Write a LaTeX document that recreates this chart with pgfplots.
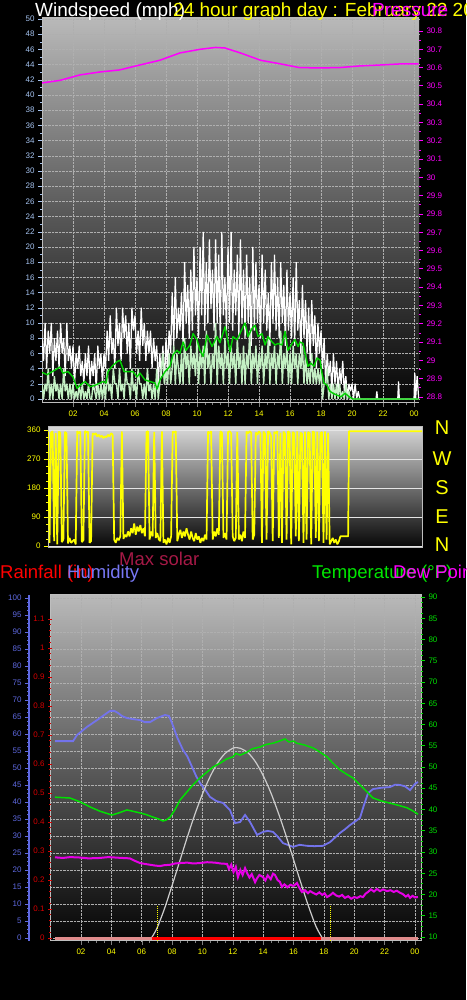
\documentclass[border=0pt]{standalone}
\usepackage{pgfplots}
\pgfplotsset{compat=1.18}
\usepackage{fontspec}
\setmainfont{Liberation Sans}
\definecolor{lblue}{RGB}{165,195,240}
\definecolor{mag}{RGB}{255,0,255}
\definecolor{yel}{RGB}{255,255,0}
\definecolor{hum}{RGB}{115,115,235}
\definecolor{humaxis}{RGB}{95,105,225}
\definecolor{tempg}{RGB}{0,225,0}
\definecolor{dewm}{RGB}{230,0,230}
\definecolor{raintick}{RGB}{215,0,0}
\definecolor{lgreen}{RGB}{195,240,195}
\definecolor{avgg}{RGB}{0,210,0}
\definecolor{solar}{RGB}{205,205,205}
\definecolor{maxsol}{RGB}{165,25,70}
\definecolor{pinkrain}{RGB}{225,140,140}
\definecolor{redrain}{RGB}{255,0,0}
\definecolor{gridc}{RGB}{175,175,175}
\definecolor{framec}{RGB}{190,190,190}
\definecolor{bgtop}{RGB}{185,185,185}
\definecolor{bgmid}{RGB}{90,90,90}
\definecolor{bgbot}{RGB}{5,5,5}
\definecolor{dirtop}{RGB}{215,215,215}
\definecolor{dirmid}{RGB}{110,110,110}
\definecolor{legred}{RGB}{255,0,0}
\definecolor{leghum}{RGB}{120,120,245}
\definecolor{leggreen}{RGB}{0,230,0}
\pgfplotsset{
  base/.style={
    scale only axis, anchor=south west,
    /pgf/number format/assume math mode=true,
    tick label style={font=\fontsize{8}{9}\selectfont},
    tick align=outside,
    major tick length=4pt,
    minor tick length=2pt,
  },
}
\begin{document}
\begin{tikzpicture}
\fill[black] (0pt,0pt) rectangle (466pt,1000pt);

% ---------------- top panel: wind speed ----------------
\begin{axis}[base, at={(42pt,597pt)}, width=377pt, height=385pt,
  xmin=0, xmax=24.32, ymin=-0.53, ymax=50.13,
  axis background/.style={shade, top color=bgtop, bottom color=bgbot, middle color=bgmid},
  axis x line*=bottom, axis y line*=left,
  axis line style={framec, line width=1pt},
  xtick={2,4,...,24}, xticklabels={02,04,06,08,10,12,14,16,18,20,22,00},
  minor x tick num=3,
  ytick={0,2,...,50}, minor y tick num=1,
  grid=major, grid style={gridc, densely dotted, line width=0.5pt},
  xticklabel style={yel}, yticklabel style={lblue},
  x tick style={gray}, y tick style={lblue},
]
% gusts
\addplot[white, line width=1.25pt, line join=bevel] coordinates {
(0,8)(0.1,5)(0.2,10)(0.3,4)(0.4,9)(0.5,6)(0.6,10)(0.7,3)(0.8,8)(0.9,5)
(1,9)(1.1,4)(1.2,10)(1.3,6)(1.4,8)(1.5,3)(1.6,10)(1.7,5)(1.8,7)(1.9,4)
(2,7)(2.1,2)(2.2,6)(2.3,4)(2.4,7)(2.5,3)(2.6,5)(2.7,2)(2.8,6)(2.9,3)
(3,7)(3.1,2)(3.2,5)(3.3,3)(3.4,6)(3.5,1)(3.6,7)(3.7,4)(3.8,6)(3.9,2)
(4,6)(4.1,4)(4.2,9)(4.3,5)(4.4,11)(4.5,6)(4.6,8)(4.7,4)(4.8,12)(4.9,7)
(5,10)(5.1,5)(5.2,12)(5.3,8)(5.4,11)(5.5,6)(5.6,10)(5.7,4)(5.8,12)(5.9,9)
(6,11)(6.1,6)(6.2,9)(6.3,5)(6.4,12)(6.5,7)(6.6,10)(6.7,5)(6.8,9)(6.9,6)
(7,9)(7.1,4)(7.2,8)(7.3,5)(7.4,7)(7.5,2)(7.6,6)(7.7,3)(7.8,7)(7.9,2)
(8,8)(8.1,4)(8.2,9)(8.3,6)(8.4,14)(8.5,7)(8.6,16)(8.7,8)(8.8,12)(8.9,9)
(9,14)(9.1,7)(9.2,18)(9.3,10)(9.4,15)(9.5,8)(9.6,17)(9.7,9)(9.8,20)(9.9,11)
(10,16)(10.1,8)(10.2,20)(10.3,11)(10.4,22)(10.5,9)(10.6,18)(10.7,10)(10.8,21)(10.9,12)
(11,17)(11.1,9)(11.2,21)(11.3,10)(11.4,19)(11.5,8)(11.6,22)(11.7,11)(11.8,16)(11.9,9)
(12,20)(12.1,10)(12.2,22)(12.3,9)(12.4,17)(12.5,11)(12.6,19)(12.7,8)(12.8,21)(12.9,10)
(13,17)(13.1,8)(13.2,19)(13.3,10)(13.4,16)(13.5,7)(13.6,20)(13.7,9)(13.8,18)(13.9,10)
(14,15)(14.1,8)(14.2,19)(14.3,10)(14.4,17)(14.5,9)(14.6,14)(14.7,7)(14.8,18)(14.9,10)
(15,19)(15.1,9)(15.2,16)(15.3,8)(15.4,18)(15.5,10)(15.6,15)(15.7,7)(15.8,17)(15.9,9)
(16,14)(16.1,8)(16.2,16)(16.3,7)(16.4,18)(16.5,9)(16.6,13)(16.7,6)(16.8,15)(16.9,8)
(17,13)(17.1,6)(17.2,12)(17.3,5)(17.4,13)(17.5,7)(17.6,11)(17.7,4)(17.8,10)(17.9,6)
(18,9)(18.1,4)(18.2,8)(18.3,2)(18.4,6)(18.5,3)(18.6,5)(18.7,1)(18.8,6)(18.9,2)
(19,5)(19.1,1)(19.2,4)(19.3,2)(19.4,5)(19.5,1)(19.6,3)(19.7,0)(19.8,2)(19.9,1)
(20,2)(20.1,0)(20.2,2)(20.3,0)(20.4,1)(20.5,0)(21.55,0)(21.6,1)(21.65,0)
(22.95,0)(23,2.3)(23.05,0)(24,0)(24.05,3.4)(24.1,0)(24.2,3)(24.3,0)};
% wind speed
\addplot[lgreen, line width=1.4pt, line join=bevel] coordinates {
(0,2)(0.1,0)(0.2,2)(0.3,1)(0.4,4)(0.5,0)(0.6,2)(0.7,0)(0.8,3)(0.9,1)
(1,2)(1.1,0)(1.2,2)(1.3,0)(1.4,4)(1.5,1)(1.6,2)(1.7,0)(1.8,2)(1.9,0)
(2,2)(2.1,0)(2.2,1)(2.3,0)(2.4,2)(2.5,0)(2.6,2)(2.7,0)(2.8,1)(2.9,0)
(3,2)(3.1,0)(3.2,0)(3.3,2)(3.4,1)(3.5,0)(3.6,2)(3.7,0)(3.8,2)(3.9,0)
(4,2)(4.1,0)(4.2,4)(4.3,1)(4.4,2)(4.5,0)(4.6,4)(4.7,2)(4.8,2)(4.9,0)
(5,4)(5.1,1)(5.2,2)(5.3,0)(5.4,4)(5.5,2)(5.6,2)(5.7,0)(5.8,4)(5.9,1)
(6,2)(6.1,0)(6.2,4)(6.3,2)(6.4,2)(6.5,0)(6.6,2)(6.7,0)(6.8,4)(6.9,1)
(7,2)(7.1,0)(7.2,2)(7.3,0)(7.4,4)(7.5,0)(7.6,2)(7.7,4)(7.8,6)(7.9,2)
(8,4)(8.1,2)(8.2,6)(8.3,2)(8.4,4)(8.5,7)(8.6,2)(8.7,6)(8.8,4)(8.9,2)
(9,6)(9.1,2)(9.2,8)(9.3,4)(9.4,6)(9.5,2)(9.6,7)(9.7,4)(9.8,6)(9.9,3)
(10,8)(10.1,2)(10.2,6)(10.3,4)(10.4,7)(10.5,2)(10.6,9)(10.7,4)(10.8,6)(10.9,2)
(11,6)(11.1,4)(11.2,10)(11.3,2)(11.4,7)(11.5,4)(11.6,6)(11.7,2)(11.8,8)(11.9,4)
(12,6)(12.1,2)(12.2,7)(12.3,4)(12.4,6)(12.5,2)(12.6,8)(12.7,4)(12.8,6)(12.9,2)
(13,7)(13.1,2)(13.2,6)(13.3,4)(13.4,9)(13.5,2)(13.6,6)(13.7,4)(13.8,7)(13.9,2)
(14,6)(14.1,4)(14.2,7)(14.3,2)(14.4,6)(14.5,4)(14.6,8)(14.7,2)(14.8,6)(14.9,4)
(15,7)(15.1,2)(15.2,6)(15.3,4)(15.4,9)(15.5,2)(15.6,6)(15.7,4)(15.8,7)(15.9,2)
(16,6)(16.1,2)(16.2,7)(16.3,4)(16.4,6)(16.5,2)(16.6,6)(16.7,4)(16.8,7)(16.9,2)
(17,6)(17.1,2)(17.2,4)(17.3,2)(17.4,6)(17.5,2)(17.6,4)(17.7,2)(17.8,4)(17.9,2)
(18,4)(18.1,0)(18.2,2)(18.3,2)(18.4,4)(18.5,0)(18.6,2)(18.7,0)(18.8,2)(18.9,0)
(19,2)(19.1,0)(19.2,2)(19.3,0)(19.4,1)(19.5,0)(19.6,2)(19.7,0)(19.8,1)(19.9,0)
(20,0)(24.3,0)};
% average wind
\addplot[avgg, line width=1.4pt, line join=round] coordinates {
(0,3.5)(0.32,3.2)(0.84,3.8)(1.16,4.2)(1.35,3.4)(1.68,3.6)(2,2.9)(2.26,1.4)(2.45,1.8)
(2.77,2.3)(3.1,1.6)(3.42,1.8)(3.74,2.1)(3.94,2.3)(4.13,2.1)(4.26,3.6)(4.52,4.3)(4.84,4.9)
(5.03,5.1)(5.29,3.6)(5.55,3.6)(5.87,3.6)(6.13,2.9)(6.32,3.4)(6.65,2.5)(6.97,2.3)(7.29,2.1)
(7.42,1.3)(7.61,2.5)(7.94,3.6)(8.26,4.3)(8.45,5.8)(8.71,6.4)(8.9,6)(9.1,7.5)(9.29,6.4)
(9.55,7.1)(9.74,8.6)(10,7.8)(10.19,6.4)(10.39,5.6)(10.65,8.4)(10.97,6.9)(11.29,8.2)
(11.48,7.4)(11.81,9.5)(12.13,6.2)(12.32,8.2)(12.58,7.8)(12.77,8.6)(12.97,9.5)(13.1,10)
(13.29,8.2)(13.55,9.3)(13.74,9.7)(13.94,8.2)(14.19,8.6)(14.39,7.1)(14.58,8.2)(14.84,7.5)
(15.03,7.1)(15.23,7.3)(15.48,7.1)(15.68,8.9)(15.87,6.4)(16.13,7.3)(16.32,7.8)(16.52,6.9)
(16.65,7.5)(16.84,7.3)(16.97,6)(17.16,4.3)(17.35,4.7)(17.55,4.3)(17.74,5.4)(17.94,5.1)
(18.06,3.4)(18.19,2.1)(18.39,1.8)(18.58,1)(18.77,0.75)(19.03,0.5)(19.29,0.3)(19.55,0.75)
(19.81,0.3)(20.06,0)(24.3,0)};
\end{axis}

% pressure
\begin{axis}[base, at={(42pt,597pt)}, width=377pt, height=385pt,
  xmin=0, xmax=24.32, ymin=28.767, ymax=30.871,
  axis y line*=right, hide x axis,
  y axis line style={draw=none},
  ytick={28.8,28.9,29,29.1,29.2,29.3,29.4,29.5,29.6,29.7,29.8,29.9,30,30.1,30.2,30.3,30.4,30.5,30.6,30.7,30.8},
  minor y tick num=1,
  yticklabel style={mag}, y tick style={mag, line width=0.8pt},
]
\addplot[mag, line width=1.5pt] coordinates {
(0,30.516)(1.16,30.53)(2.45,30.56)(3.74,30.576)(5,30.587)(6.3,30.614)(7.6,30.64)
(8.9,30.68)(10.2,30.70)(11.2,30.71)(11.8,30.707)(12.8,30.68)(14.1,30.64)(15.4,30.62)
(16.6,30.60)(17.9,30.598)(19.2,30.60)(20.5,30.609)(21.8,30.614)(23.1,30.62)(24.3,30.62)};
\end{axis}

% ---------------- middle panel: wind direction ----------------
\begin{axis}[base, at={(48pt,452pt)}, width=374pt, height=121pt,
  xmin=0, xmax=24.3, ymin=-6.2, ymax=369.3,
  axis background/.style={shade, top color=dirtop, bottom color=bgbot, middle color=dirmid},
  axis line style={framec, line width=1pt},
  xtick=\empty,
  ytick={0,90,180,270,360}, minor y tick num=3,
  ymajorgrids, grid style={white!80!gray, line width=0.5pt},
  yticklabel style={yel}, y tick style={yel},
  tick pos=left,
]
\addplot[yel, line width=1.7pt, line join=bevel] coordinates {
(0,355)(0.1,10)(0.2,352)(0.3,356)(0.4,15)(0.5,350)(0.6,5)(0.7,355)(0.8,352)(0.9,12)
(1,20)(1.1,354)(1.2,350)(1.3,8)(1.4,25)(1.5,10)(1.6,15)(1.7,20)(1.8,5)(1.9,356)
(2,350)(2.1,355)(2.2,12)(2.3,18)(2.4,357)(2.5,352)(2.6,355)(2.7,10)(2.8,15)(2.9,350)
(3,345)(3.1,350)(3.2,340)(3.3,345)(3.4,338)(3.5,342)(3.6,335)(3.7,340)(3.8,338)(3.9,345)
(4,340)(4.1,350)(4.2,345)(4.3,20)(4.4,10)(4.5,25)(4.6,18)(4.7,30)(4.8,356)(4.9,22)
(5,35)(5.1,28)(5.2,45)(5.3,30)(5.4,55)(5.5,40)(5.6,70)(5.7,35)(5.8,60)(5.9,45)
(6,65)(6.1,40)(6.2,55)(6.3,30)(6.4,354)(6.5,356)(6.6,20)(6.7,45)(6.8,30)(6.9,354)
(7,25)(7.1,40)(7.2,20)(7.3,15)(7.4,356)(7.5,10)(7.6,20)(7.7,5)(7.8,25)(7.9,10)
(8,30)(8.1,355)(8.2,352)(8.3,356)(8.4,15)(8.5,35)(8.6,50)(8.7,25)(8.8,45)(8.9,30)
(9,55)(9.1,35)(9.2,20)(9.3,45)(9.4,25)(9.5,15)(9.6,40)(9.7,20)(9.8,30)(9.9,10)
(10,25)(10.1,15)(10.2,35)(10.3,20)(10.4,355)(10.5,350)(10.6,356)(10.7,20)(10.8,45)(10.9,30)
(11,55)(11.1,35)(11.2,356)(11.3,352)(11.4,25)(11.5,40)(11.6,20)(11.7,354)(11.8,356)(11.9,350)
(12,30)(12.1,15)(12.2,25)(12.3,354)(12.4,20)(12.5,35)(12.6,15)(12.7,45)(12.8,25)(12.9,355)
(13,350)(13.1,356)(13.2,352)(13.3,20)(13.4,35)(13.5,352)(13.6,345)(13.7,356)(13.8,350)(13.9,10)
(14,355)(14.1,348)(14.2,20)(14.3,356)(14.4,352)(14.5,340)(14.6,15)(14.7,354)(14.8,350)(14.9,356)
(15,25)(15.1,352)(15.2,10)(15.3,355)(15.4,348)(15.5,20)(15.6,356)(15.7,352)(15.8,5)(15.9,354)
(16,350)(16.1,30)(16.2,356)(16.3,15)(16.4,352)(16.5,348)(16.6,10)(16.7,355)(16.8,20)(16.9,354)
(17,350)(17.1,5)(17.2,356)(17.3,352)(17.4,25)(17.5,355)(17.6,15)(17.7,350)(17.8,354)(17.9,10)
(18,356)(18.1,20)(18.2,352)(18.3,5)(18.4,15)(18.5,25)(18.6,10)(18.7,20)(18.8,5)(18.9,15)
(19,30)(19.5,30)(19.56,356)(24.3,356)};
\end{axis}

% ---------------- bottom panel ----------------
\begin{axis}[base, at={(50pt,59pt)}, width=371pt, height=346pt,
  xmin=-0.04, xmax=24.4, ymin=-0.9, ymax=100.9,
  axis background/.style={shade, top color=bgtop, bottom color=bgbot, middle color=bgmid},
  axis line style={framec, line width=1pt},
  xtick={2,4,...,24}, xticklabels={02,04,06,08,10,12,14,16,18,20,22,00},
  minor x tick num=3, x tick style={gray},
  xticklabel style={yel},
  ytick={0,5,...,100}, yticklabels={}, y tick style={draw=none},
  grid=major, grid style={gridc, densely dotted, line width=0.5pt},
  tick pos=left,
]
% humidity
\addplot[hum, line width=1.8pt] coordinates {
(0.29,57.9)(1.48,57.9)(1.74,59.7)(2.4,62.1)(3.06,64.1)(3.5,65.5)(3.91,66.8)(4.2,66.8)
(4.44,66.2)(4.7,65.3)(5.03,64.7)(5.4,64.4)(5.89,64.1)(6.2,63.5)(6.55,63.5)(7.01,64.7)
(7.54,65.6)(7.8,65.3)(8,63.2)(8.33,59.1)(8.72,55.3)(9,53.5)(9.32,50.3)(9.6,47.5)
(9.84,45.6)(10.2,43.5)(10.5,41.5)(10.9,40.3)(11.36,39.7)(11.82,37.6)(12.15,33.8)
(12.48,34.1)(12.81,36.2)(13.14,34.1)(13.6,30.3)(13.99,31.2)(14.3,31.5)(14.65,31.2)
(14.98,29.7)(15.31,27.9)(15.97,26.8)(16.4,27.4)(16.89,27.1)(17.4,27)(17.94,27.1)
(18.41,28.2)(18.7,29.4)(19.07,30.9)(19.4,32)(19.72,33.2)(20.1,34.4)(20.38,35.3)
(20.6,38.5)(20.91,42.6)(21.24,43.8)(21.8,44.2)(22.36,44.4)(22.7,45.1)(23.02,45)
(23.35,44.6)(23.68,43.5)(24,45.3)(24.2,45.9)};
% max solar
\addplot[solar, line width=1.2pt, smooth] coordinates {
(6.64,0)(7,2.8)(7.5,8.6)(8,15.4)(8.5,22.5)(9,29.6)(9.5,36.3)(10,42.3)(10.5,47.4)
(11,51.5)(11.5,54.3)(12,55.8)(12.27,56)(12.5,55.8)(13,54.5)(13.5,51.8)(14,47.8)
(14.5,42.8)(15,36.8)(15.5,30.2)(16,23.1)(16.5,16)(17,9.2)(17.5,3.2)(17.9,0)};
% sunrise / sunset markers
\addplot[yel, line width=1pt, densely dotted] coordinates {(7.01,-0.9)(7.01,9.4)};
\addplot[yel, line width=1pt, densely dotted] coordinates {(18.41,-0.9)(18.41,9.4)};
\end{axis}

% rainfall axis
\begin{axis}[base, at={(50pt,59pt)}, width=371pt, height=346pt,
  xmin=-0.04, xmax=24.4, ymin=-0.0103, ymax=1.183,
  axis y line*=left, hide x axis,
  y axis line style={draw=none},
  ytick={0,0.1,0.2,0.3,0.4,0.5,0.6,0.7,0.8,0.9,1,1.1},
  minor y tick num=4, tick align=center,
  yticklabel style={raintick}, y tick style={raintick, line width=0.8pt},
]
\addplot[pinkrain, line width=3pt] coordinates {(0.29,0)(24.2,0)};
\addplot[redrain, line width=3pt] coordinates {(6.66,0)(17.8,0)};
\end{axis}

% temperature axis
\begin{axis}[base, at={(50pt,59pt)}, width=371pt, height=346pt,
  xmin=-0.04, xmax=24.4, ymin=9.06, ymax=90.47,
  axis y line*=right, hide x axis,
  y axis line style={draw=none},
  ytick={10,15,...,90}, minor y tick num=3,
  yticklabel style={tempg}, y tick style={tempg, line width=0.8pt},
]
\addplot[tempg, line width=1.5pt] coordinates {
(0.29,42.9)(0.8,42.8)(1.28,42.7)(1.94,41.8)(2.6,40.6)(3.25,39.6)(4.04,38.7)(4.5,39.2)
(5.03,39.9)(5.4,39.6)(5.89,39.2)(6.3,38.8)(6.75,38.2)(7.1,37.8)(7.4,37.3)(7.6,37.5)
(7.87,38.2)(8.2,40)(8.52,42.2)(8.95,44)(9.38,45.8)(9.8,47.3)(10.3,48.8)(10.7,50)
(11.16,50.9)(11.6,51.9)(12.02,52.4)(12.2,53.2)(12.5,52.8)(12.94,53.5)(13.3,54.3)
(13.79,54.7)(14.2,55.3)(14.65,55.6)(15,56)(15.44,56.6)(15.7,55.9)(16,56.1)(16.22,55.6)
(16.7,55.2)(17.28,54.5)(17.7,53.6)(18.21,52.4)(18.6,50.9)(19.07,49.3)(19.5,48.3)
(19.93,47.4)(20.58,45.1)(21.24,42.7)(21.8,42)(22.36,41.5)(22.9,41)(23.48,40.4)
(23.9,39.6)(24.2,38.9)};
\addplot[dewm, line width=2pt] coordinates {
(0.29,28.75)(0.8,28.6)(1.3,28.8)(1.94,28.7)(2.5,28.5)(3.25,28.6)(3.8,28.8)(4.24,28.7)
(4.7,28.6)(5.23,28.5)(5.5,28)(5.89,27.4)(6.2,27.2)(6.55,27)(6.9,26.8)(7.21,26.7)
(7.5,26.9)(7.87,27)(8.2,27.3)(8.52,27.4)(9,27.5)(9.4,27.3)(9.84,27.4)(10.3,27.6)
(10.83,27.5)(11.2,27.3)(11.62,27.2)(11.75,26)(11.9,27)(12.05,25.3)(12.2,26.5)
(12.34,24.1)(12.5,25.8)(12.65,24.6)(12.81,26.2)(12.95,25)(13.1,24)(13.25,24.8)
(13.47,22.9)(13.6,23.8)(13.75,24.6)(13.99,24.1)(14.15,23.3)(14.3,24.5)(14.5,23.6)
(14.65,24.9)(14.78,24.6)(14.95,23.4)(15.1,23)(15.24,21.8)(15.4,22.4)(15.6,21.7)
(15.8,22.3)(16,22)(16.23,22.7)(16.4,21.5)(16.56,20.6)(16.75,21)(16.95,20.3)(17.1,20.8)
(17.28,20.4)(17.5,20)(17.7,20.5)(17.9,19.9)(18.05,20.3)(18.21,19.4)(18.4,19.8)
(18.6,20.4)(18.8,19.8)(19,19.5)(19.2,19.9)(19.39,19.2)(19.6,19.6)(19.8,19)(20,19.4)
(20.19,19.2)(20.4,19.6)(20.58,19.4)(20.75,20.2)(20.91,20.6)(21.1,21.2)(21.3,20.7)
(21.5,21.3)(21.7,20.8)(21.9,21.2)(22.16,20.8)(22.4,21)(22.6,20.6)(22.8,20.9)(23.02,20.4)
(23.2,20.1)(23.4,19.5)(23.55,19.9)(23.68,19.2)(23.85,19.7)(24,19.3)(24.2,19.4)};
\end{axis}

% humidity scale
\begin{axis}[base, at={(29pt,59pt)}, width=1pt, height=346pt,
  xmin=0, xmax=1, ymin=-0.9, ymax=100.9,
  axis y line*=left, hide x axis,
  y axis line style={humaxis, line width=2pt},
  ytick={0,5,...,100}, minor y tick num=3,
  yticklabel style={humaxis}, y tick style={humaxis, line width=0.8pt},
]
\end{axis}

% ---------------- texts ----------------
\node[anchor=base west, inner sep=0, text=white, font=\fontsize{19}{21}\selectfont] at (35pt,983pt) {Windspeed (mph)};
\node[anchor=base west, inner sep=0, text=yel, font=\fontsize{19}{21}\selectfont] at (173pt,983pt) {24 hour graph day : February 22 20};
\node[anchor=base west, inner sep=0, text=mag, font=\fontsize{19}{21}\selectfont] at (372pt,983pt) {Pressure};

\node[text=yel, font=\fontsize{20}{22}\selectfont, inner sep=0] at (442pt,572pt) {N};
\node[text=yel, font=\fontsize{20}{22}\selectfont, inner sep=0] at (442pt,541pt) {W};
\node[text=yel, font=\fontsize{20}{22}\selectfont, inner sep=0] at (442pt,512pt) {S};
\node[text=yel, font=\fontsize{20}{22}\selectfont, inner sep=0] at (442pt,483pt) {E};
\node[text=yel, font=\fontsize{20}{22}\selectfont, inner sep=0] at (442pt,455pt) {N};

\node[anchor=base west, inner sep=0, text=maxsol, font=\fontsize{18.5}{20}\selectfont] at (119pt,434pt) {Max solar};
\node[anchor=base west, inner sep=0, text=legred, font=\fontsize{18.5}{20}\selectfont] at (0pt,421pt) {Rainfall (in)};
\node[anchor=base west, inner sep=0, text=leghum, font=\fontsize{18.5}{20}\selectfont] at (67pt,421pt) {Humidity};
\node[anchor=base west, inner sep=0, text=leggreen, font=\fontsize{18.5}{20}\selectfont] at (312pt,421pt) {Temperature (°F)};
\node[anchor=base west, inner sep=0, text=mag, font=\fontsize{18.5}{20}\selectfont] at (393pt,421pt) {Dew Point};

\pgfresetboundingbox
\path[use as bounding box] (0pt,0pt) rectangle (466pt,1000pt);
\end{tikzpicture}
\end{document}
